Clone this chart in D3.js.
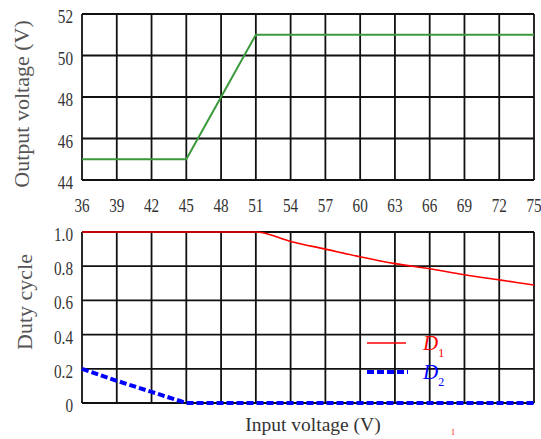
<!DOCTYPE html>
<html>
<head>
<meta charset="utf-8">
<script src="https://cdn.jsdelivr.net/npm/d3@7"></script>
<style>
  body { margin: 0; background: #fff; }
</style>
</head>
<body>
<div id="root"></div>
<script>
// input voltage ticks
var vinTicks = [36, 39, 42, 45, 48, 51, 54, 57, 60, 63, 66, 69, 72, 75];
var voutTicks = [44, 46, 48, 50, 52];
var dutyTicks = [0, 0.2, 0.4, 0.6, 0.8, 1.0];

// output voltage curve
var voutVin = [36, 45, 51, 75];
var voutVal = [45, 45, 51, 51];

// duty cycles
var d1Vin = [36, 51, 54, 57, 60, 63, 66, 69, 72, 75];
var d1Val = [1.0, 1.0, 0.945, 0.9, 0.855, 0.815, 0.785, 0.75, 0.72, 0.69];
var d2Vin = [36, 39, 42, 45, 75];
var d2Val = [0.2, 0.13, 0.065, 0, 0];

var W = 541, H = 439;
var left = 82, right = 534;
var serif = '"Liberation Serif", "Times New Roman", serif';

var svg = d3.select('#root').append('svg').attr('width', W).attr('height', H)
  .attr('font-family', serif);

var x = d3.scaleLinear().domain([36, 75]).range([left, right]);
var y1 = d3.scaleLinear().domain([44, 52]).range([180, 14]);
var y2 = d3.scaleLinear().domain([0, 1]).range([403, 232]);

function grid(yScale, yTicks, fmt) {
  var top = yScale.range()[1], bot = yScale.range()[0];
  // vertical grid
  svg.append('g')
    .selectAll('line').data(vinTicks).enter().append('line')
    .attr('x1', d => x(d)).attr('x2', d => x(d))
    .attr('y1', top).attr('y2', bot)
    .attr('stroke', '#111').attr('stroke-width', 1.8);
  // horizontal grid
  svg.append('g')
    .selectAll('line').data(yTicks).enter().append('line')
    .attr('x1', left).attr('x2', right)
    .attr('y1', d => yScale(d)).attr('y2', d => yScale(d))
    .attr('stroke', '#111').attr('stroke-width', 1.8);
  // y tick labels (narrow, like the original)
  svg.append('g')
    .selectAll('text').data(yTicks).enter().append('text')
    .attr('transform', d => `translate(73,${yScale(d) + 9}) scale(0.8,1)`)
    .attr('text-anchor', 'end')
    .attr('font-size', '19px').attr('fill', '#333')
    .text(fmt);
}

grid(y1, voutTicks, d => d);
grid(y2, dutyTicks, d => d === 0 ? '0' : d.toFixed(1));

// top x tick labels
svg.append('g')
  .selectAll('text').data(vinTicks).enter().append('text')
  .attr('transform', d => `translate(${x(d)},212) scale(0.8,1)`)
  .attr('text-anchor', 'middle')
  .attr('font-size', '19px').attr('fill', '#333')
  .text(d => d);

var line = d3.line().x(d => x(d[0]));

// output voltage
svg.append('path')
  .datum(voutVin.map((v, i) => [v, voutVal[i]]))
  .attr('d', line.y(d => y1(d[1])))
  .attr('fill', 'none').attr('stroke', '#3a9a3a').attr('stroke-width', 2);

// D1
svg.append('path')
  .datum(d1Vin.map((v, i) => [v, d1Val[i]]))
  .attr('d', d3.line().x(d => x(d[0])).y(d => y2(d[1])).curve(d3.curveMonotoneX))
  .attr('fill', 'none').attr('stroke', '#f00').attr('stroke-width', 1.6);

// D2
svg.append('path')
  .datum(d2Vin.map((v, i) => [v, d2Val[i]]))
  .attr('d', d3.line().x(d => x(d[0])).y(d => y2(d[1])))
  .attr('fill', 'none').attr('stroke', '#00f').attr('stroke-width', 4)
  .attr('stroke-dasharray', '7,3');

// legend
svg.append('line').attr('x1', 367).attr('x2', 406).attr('y1', 343).attr('y2', 343)
  .attr('stroke', '#f00').attr('stroke-width', 1.6);
svg.append('line').attr('x1', 367).attr('x2', 408).attr('y1', 372).attr('y2', 372)
  .attr('stroke', '#00f').attr('stroke-width', 4).attr('stroke-dasharray', '7,3');

var l1 = svg.append('text').attr('x', 423).attr('y', 350).attr('fill', '#f00')
  .attr('font-size', '21px').attr('font-style', 'italic');
l1.append('tspan').text('D');
l1.append('tspan').attr('font-size', '12px').attr('font-style', 'normal').attr('dy', 7).text('1');
var l2 = svg.append('text').attr('x', 423).attr('y', 379).attr('fill', '#00f')
  .attr('font-size', '21px').attr('font-style', 'italic');
l2.append('tspan').text('D');
l2.append('tspan').attr('font-size', '12px').attr('font-style', 'normal').attr('dy', 7).text('2');

// axis titles
svg.append('text')
  .attr('transform', 'translate(29,104) rotate(-90)')
  .attr('text-anchor', 'middle').attr('font-size', '22px').attr('fill', '#555')
  .text('Output voltage (V)');
svg.append('text')
  .attr('transform', 'translate(32,302) rotate(-90)')
  .attr('text-anchor', 'middle').attr('font-size', '22px').attr('fill', '#555')
  .text('Duty cycle');
svg.append('text')
  .attr('x', 313).attr('y', 431)
  .attr('text-anchor', 'middle').attr('font-size', '19.5px').attr('fill', '#333')
  .text('Input voltage (V)');
svg.append('text')
  .attr('x', 453).attr('y', 435)
  .attr('text-anchor', 'middle').attr('font-size', '8px').attr('fill', '#f00')
  .text('1');
</script>
</body>
</html>
